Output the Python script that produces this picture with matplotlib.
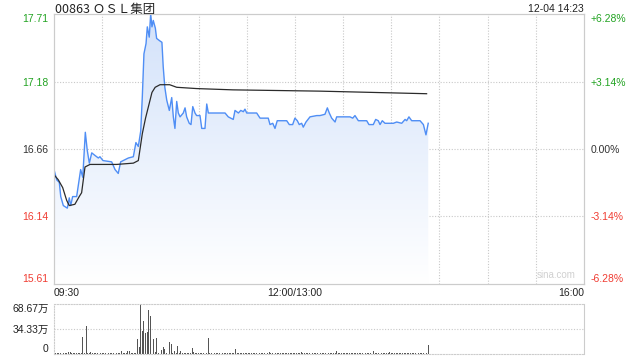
import numpy as np
import matplotlib
matplotlib.use('Agg')
from matplotlib import pyplot as plt
from matplotlib.colors import LinearSegmentedColormap

plt.rcParams['font.family'] = ['Liberation Sans', 'Noto Sans CJK SC', 'DejaVu Sans']

# minutes after 09:30 (lunch break removed), 330 trading minutes in total
price_min = [0, 1.7, 3.3, 4.2, 5.8, 8.3, 9.5, 10.4, 11.6, 14.1, 16.6, 17.9, 19.5, 20.7,
             22, 23.5, 25.5, 27.6, 28.6, 30.5, 35.9, 38, 40, 41.5, 46.3, 49.4, 51,
             52.5, 54, 55, 56, 57.3, 58.1, 59.3, 60.2, 61, 61.8, 63.1, 63.9, 66,
             67.2, 68, 69, 70.2, 71.8, 73.3, 74.3, 75.3, 76.4, 77.4, 78.5, 80.5,
             81.6, 82.6, 84.2, 85.3, 86.4, 87.8, 88.8, 90.9, 92, 94, 95.1, 96.1,
             106.5, 108.5, 111.6, 112.7, 114.8, 116.3, 117.9, 118.9, 120, 126.2,
             128.3, 133.4, 134.5, 136.2, 137.6, 139, 144.9, 146.5, 148.6, 150,
             151.5, 152.7, 154.2, 155.2, 156.9, 159.4, 163.6, 165.6, 168.7, 170.2,
             171.4, 172.9, 175, 176, 184.3, 186, 187.4, 189.5, 194.7, 196.1, 198.8,
             200.3, 201.9, 203, 204.4, 206.1, 211.3, 213.4, 216.5, 218.6, 219.6,
             221, 222.7, 227.9, 230, 231.6, 233]
price = [16.50, 16.42, 16.40, 16.29, 16.22, 16.20, 16.28, 16.22, 16.29, 16.29, 16.50,
         16.44, 16.79, 16.65, 16.55, 16.63, 16.61, 16.59, 16.60, 16.57, 16.56, 16.50,
         16.47, 16.56, 16.59, 16.60, 16.71, 16.68, 16.80, 17.07, 17.40, 17.48, 17.61,
         17.53, 17.71, 17.61, 17.66, 17.60, 17.52, 17.50, 17.49, 17.30, 17.14, 17.04,
         16.96, 17.06, 16.91, 16.82, 17.03, 16.94, 16.91, 16.94, 16.98, 16.91, 16.86,
         16.85, 16.99, 16.94, 16.92, 16.92, 16.82, 16.82, 17.01, 16.94, 16.94, 16.91,
         16.89, 16.96, 16.94, 16.96, 16.95, 16.97, 16.94, 16.94, 16.90, 16.90, 16.85,
         16.86, 16.82, 16.88, 16.88, 16.85, 16.85, 16.90, 16.88, 16.85, 16.86, 16.83,
         16.87, 16.91, 16.92, 16.92, 16.93, 16.98, 16.94, 16.90, 16.87, 16.91, 16.91,
         16.90, 16.92, 16.88, 16.88, 16.85, 16.85, 16.89, 16.88, 16.85, 16.88, 16.86,
         16.86, 16.87, 16.86, 16.89, 16.88, 16.91, 16.88, 16.88, 16.85, 16.77, 16.86]

avg_min = [0, 2.7, 5.4, 7.9, 9.5, 13, 15.7, 17.2, 19.3, 22.4, 39, 49.4, 52.5, 55, 57,
           59, 61, 63, 66, 72, 76.4, 88.8, 111.4, 165.6, 232]
avg = [16.46, 16.42, 16.36, 16.26, 16.22, 16.23, 16.29, 16.32, 16.52, 16.54, 16.54,
       16.55, 16.57, 16.78, 16.90, 17.00, 17.10, 17.14, 17.16, 17.16, 17.14, 17.13,
       17.12, 17.11, 17.09]

# per-minute volume, in 万
volume = [1, 1, 2, 1, 1, 2, 1, 1, 2, 3, 3, 2, 1, 2, 1, 2, 1, 2, 23, 2,
          38, 2, 1, 3, 2, 1, 1, 2, 1, 1, 2, 1, 1, 1, 2, 1, 1, 2, 1, 1,
          1, 2, 4.6, 1, 1, 1, 4.6, 4.6, 1, 1, 1, 2, 20, 9, 68.5, 31, 45, 29, 30, 61,
          52, 20, 20, 3, 22, 2, 8, 6, 9, 7, 2, 1, 17, 14, 2, 4.6, 1, 10.5, 2, 4.6,
          1, 2, 1, 1, 2, 1, 8, 3, 1, 2, 1, 1, 2, 1, 1, 2, 22, 1, 1, 2,
          1, 1, 1, 2, 1, 1, 2, 1, 1, 1, 2, 1, 1, 7, 1, 1, 2, 1, 1, 1,
          2, 1, 1, 2, 1, 1, 1, 2, 1, 1, 2, 1, 1, 1, 3, 1, 1, 2, 1, 1,
          1, 2, 1, 1, 1, 2, 1, 1, 2, 1, 1, 1, 2, 1, 3, 1, 1, 2, 1, 1,
          1, 2, 1, 1, 2, 1, 1, 1, 2, 1, 1, 2, 1, 1, 1, 1, 4, 1, 1, 2,
          1, 1, 2, 1, 1, 1, 2, 1, 1, 2, 1, 1, 1, 2, 1, 1, 2, 1, 1, 4,
          1, 1, 2, 1, 1, 1, 2, 1, 1, 3, 1, 1, 2, 1, 1, 1, 2, 1, 1, 2,
          1, 1, 1, 2, 1, 1, 2, 1, 1, 1, 2, 1, 1, 12]

prev_close = 16.66
price_ticks = [15.61, 16.14, 16.66, 17.18, 17.71]
pct_labels = ['-6.28%', '-3.14%', '0.00%', '+3.14%', '+6.28%']
tick_colors = ['#f03c32', '#f03c32', '#333333', '#22a322', '#22a322']
time_ticks = [0, 150, 330]
time_labels = ['09:30', '12:00/13:00', '16:00']
vol_ticks = [0, 34.33, 68.67]
vol_labels = ['0', '34.33万', '68.67万']

grid_kw = dict(color='#c8c8c8', linestyle=(0, (1, 1.5)), linewidth=0.8)
fs = 7.5

fig = plt.figure(figsize=(6.4, 3.6), dpi=100)
ax = fig.add_axes([54/640, 1-284/360, 530/640, 270/360])
axv = fig.add_axes([54/640, 1-354/360, 530/640, 50/360])

# price panel
ax.set_xlim(0, 330)
ax.set_ylim(15.61, 17.71)
for m in range(30, 330, 30):
    ax.axvline(m, **grid_kw, zorder=0)
for t in price_ticks[1:-1]:
    ax.axhline(t, **grid_kw, zorder=0)

poly = ax.fill_between(price_min, price, 15.61, color='none')
cmap = LinearSegmentedColormap.from_list('bl', ['#ffffff', '#d3e2fa'])
grad = np.linspace(0, 1, 256).reshape(-1, 1)
img = ax.imshow(grad, extent=[0, 330, 15.61, 17.71], origin='lower', aspect='auto',
                cmap=cmap, zorder=1)
img.set_clip_path(poly.get_paths()[0], transform=ax.transData)
ax.plot(price_min, price, color='#4f8ef5', linewidth=1.0, zorder=3)
ax.plot(avg_min, avg, color='#2b2b2b', linewidth=0.9, zorder=4)

ax.set_yticks(price_ticks)
ax.set_yticklabels([f'{t:.2f}' for t in price_ticks], fontsize=fs)
for lab, c in zip(ax.get_yticklabels(), tick_colors):
    lab.set_color(c)
ax.get_yticklabels()[0].set_verticalalignment('bottom')
ax.get_yticklabels()[-1].set_verticalalignment('top')
ax.tick_params(axis='y', length=0, pad=4)

ax2 = ax.twinx()
ax2.set_ylim(ax.get_ylim())
ax2.set_yticks(price_ticks)
ax2.set_yticklabels(pct_labels, fontsize=fs)
for lab, c in zip(ax2.get_yticklabels(), tick_colors):
    lab.set_color(c)
ax2.get_yticklabels()[0].set_verticalalignment('bottom')
ax2.get_yticklabels()[-1].set_verticalalignment('top')
ax2.tick_params(axis='y', length=0, pad=5)

ax.set_xticks(time_ticks)
ax.set_xticklabels(time_labels, fontsize=fs, color='#222222')
ax.get_xticklabels()[0].set_horizontalalignment('left')
ax.get_xticklabels()[-1].set_horizontalalignment('right')
ax.tick_params(axis='x', length=0, pad=3)

for a in (ax, ax2):
    for s in a.spines.values():
        s.set_color('#cccccc')

fig.text(55/640, 1-12.5/360, '00863 ＯＳＬ集团', fontsize=9,
         color='#222222', ha='left', va='baseline',
         family=['Noto Sans CJK SC', 'DejaVu Sans'])
fig.text(584/640, 1-12/360, '12-04 14:23', fontsize=fs,
         color='#222222', ha='right', va='baseline')
ax.text(0.985, 0.015, 'sina.com', transform=ax.transAxes, fontsize=7,
        color='#d0d0d0', ha='right', va='bottom')

# volume panel
axv.bar(np.arange(len(volume)), volume, width=0.55, color='#555555', zorder=2)
axv.set_xlim(0, 330)
axv.set_ylim(0, 68.67)
axv.axhline(34.33, **grid_kw, zorder=0)
axv.set_xticks([])
axv.set_yticks(vol_ticks)
axv.set_yticklabels(vol_labels, fontsize=fs, color='#222222',
                    family=['Liberation Sans', 'Noto Sans CJK SC'])
axv.tick_params(axis='y', length=0, pad=4)
axv.get_yticklabels()[0].set_verticalalignment('bottom')
axv.get_yticklabels()[-1].set_verticalalignment('top')
for s in axv.spines.values():
    s.set_color('#cccccc')
axv.spines['top'].set_linestyle((0, (1, 1.5)))
axv.spines['left'].set_linestyle((0, (1, 1.5)))
axv.spines['bottom'].set_linestyle((0, (1, 1.5)))

fig.savefig('out.png', dpi=100)
